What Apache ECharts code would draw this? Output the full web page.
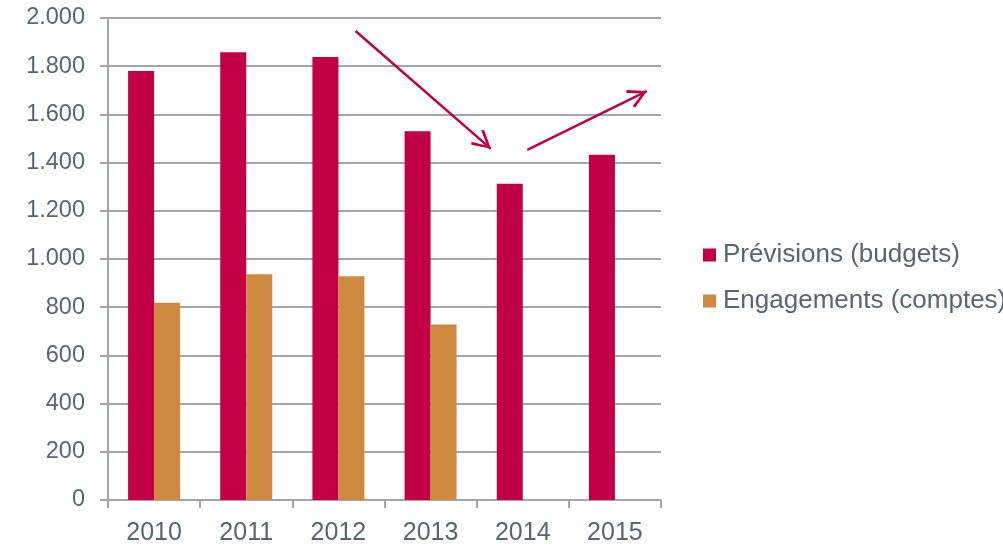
<!DOCTYPE html>
<html>
<head>
<meta charset="utf-8">
<script src="https://cdn.jsdelivr.net/npm/echarts@6/dist/echarts.min.js"></script>
<style>html,body{margin:0;padding:0;background:#fff;}#c{width:1003px;height:546px;}</style>
</head>
<body>
<div id="c"></div>
<script>
const categories = ['2010', '2011', '2012', '2013', '2014', '2015'];
const seriesNames = ['Prévisions (budgets)', 'Engagements (comptes)'];
const previsions = [1780, 1858, 1838, 1530, 1312, 1433];
const engagements = [818, 937, 928, 728, null, null];
const yTicks = { min: 0, max: 2000, interval: 200 };
// trend arrows, in data space: [fromX, fromY, toX, toY] (x in category index units)
const arrowDown = [2.186, 1946, 3.655, 1457];
const arrowUp = [4.049, 1453, 5.346, 1697];

const RED = '#C20045';
const ORANGE = '#D08940';
const TEXT = '#586672';
const GRID = '#a3a6aa';
const FONT = '"Liberation Sans", Arial, sans-serif';

// open chevron arrowhead; square bounding box with the tip at its centre
const chevron = 'path://M-5,0 L-4.98,0 L-5,0.02 Z M15,20 L15.02,20 L15,19.98 Z M5,10 L10,19 L8.8,20 L5,12.5 L1.2,20 L0,19 Z';

function fmt(v) {
  return String(v).replace(/\B(?=(\d{3})+(?!\d))/g, '.');
}
function seg(a) {
  return [{ coord: [a[0], a[1]] }, { coord: [a[2], a[3]] }];
}

const chart = echarts.init(document.getElementById('c'), null, { renderer: 'canvas' });
chart.setOption({
  animation: false,
  backgroundColor: '#fff',
  textStyle: { fontFamily: FONT },
  grid: { left: 108, right: 342, top: 18, bottom: 45.5, containLabel: false },
  legend: {
    orient: 'vertical',
    left: 703,
    top: 242,
    padding: 0,
    itemWidth: 13,
    itemHeight: 13,
    itemGap: 20,
    icon: 'rect',
    data: seriesNames,
    textStyle: { color: TEXT, fontSize: 26, fontFamily: FONT, padding: [0, 0, 0, 2] }
  },
  xAxis: [{
    type: 'category',
    data: categories,
    boundaryGap: true,
    axisLine: { lineStyle: { color: GRID, width: 2 } },
    axisTick: { show: true, length: 8, lineStyle: { color: GRID, width: 2 } },
    axisLabel: { color: TEXT, fontSize: 25, margin: 21, fontFamily: FONT },
    splitLine: { show: false }
  }, {
    type: 'value',
    min: -0.5,
    max: 5.5,
    show: false
  }],
  yAxis: {
    type: 'value',
    min: yTicks.min,
    max: yTicks.max,
    interval: yTicks.interval,
    axisLine: { show: true, onZero: false, lineStyle: { color: GRID, width: 2 } },
    axisTick: { show: true, length: 8, lineStyle: { color: GRID, width: 2 } },
    axisLabel: { color: TEXT, fontSize: 23.5, margin: 23, fontFamily: FONT, formatter: fmt },
    splitLine: { show: true, lineStyle: { color: GRID, width: 2 } }
  },
  series: [{
    name: seriesNames[0],
    type: 'bar',
    data: previsions,
    barWidth: 26,
    barGap: '0%',
    itemStyle: { color: RED }
  }, {
    name: seriesNames[1],
    type: 'bar',
    data: engagements,
    barWidth: 26,
    barGap: '0%',
    itemStyle: { color: ORANGE }
  }, {
    name: 'arrows',
    type: 'line',
    xAxisIndex: 1,
    data: [],
    silent: true,
    markLine: {
      silent: true,
      animation: false,
      symbol: ['none', chevron],
      symbolSize: 39,
      label: { show: false },
      emphasis: { disabled: true },
      lineStyle: { color: RED, width: 2.5, type: 'solid' },
      data: [seg(arrowDown), seg(arrowUp)]
    }
  }]
});
</script>
</body>
</html>
